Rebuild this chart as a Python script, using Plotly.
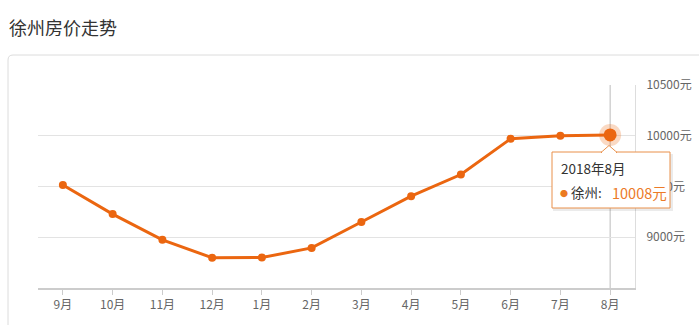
import plotly.graph_objects as go

title = "徐州房价走势"
months = ["9月", "10月", "11月", "12月", "1月", "2月", "3月", "4月", "5月", "6月", "7月", "8月"]
prices = [9515, 9228, 8975, 8798, 8800, 8895, 9150, 9405, 9618, 9970, 10000, 10008]
y_ticks = [9000, 9500, 10000, 10500]
y_ticktext = ["9000元", "9500元", "10000元", "10500元"]
tip_title = "2018年8月"
tip_series = "徐州:"

W, H = 699, 325
L, R, T, B = 38, 64, 85, 37
pw, ph = W - L - R, H - T - B

def px(x):
    return (x - L) / pw

def py(y):
    return (H - B - y) / ph

ORANGE = "#eb6610"
FONT = "Noto Sans CJK SC, Microsoft YaHei, sans-serif"

fig = go.Figure()
fig.add_trace(go.Scatter(
    x=months, y=prices, mode="lines+markers",
    line=dict(color=ORANGE, width=3),
    marker=dict(color=ORANGE, size=8),
    hoverinfo="skip", showlegend=False, cliponaxis=False,
))
fig.add_trace(go.Scatter(
    x=[months[-1]], y=[prices[-1]], mode="markers",
    marker=dict(color="rgba(235,102,16,0.25)", size=22),
    hoverinfo="skip", showlegend=False, cliponaxis=False,
))
fig.add_trace(go.Scatter(
    x=[months[-1]], y=[prices[-1]], mode="markers",
    marker=dict(color=ORANGE, size=13),
    hoverinfo="skip", showlegend=False, cliponaxis=False,
))

shapes = []
# card border (rounded)
x0, x1 = px(8), px(705)
y0, y1 = py(330), py(55)
rx, ry = 5 / pw, 5 / ph
shapes.append(dict(
    type="path", xref="paper", yref="paper", layer="below",
    path=(f"M {x0+rx},{y1} L {x1},{y1} L {x1},{y0} L {x0},{y0} L {x0},{y1-ry} "
          f"Q {x0},{y1} {x0+rx},{y1} Z"),
    line=dict(color="#dcdcdc", width=1), fillcolor="rgba(0,0,0,0)",
))
# hover vertical line
shapes.append(dict(
    type="line", xref="x", yref="paper", x0=11, x1=11, y0=0, y1=1,
    line=dict(color="#bbbbbb", width=1), layer="below",
))
# tooltip shadow
shapes.append(dict(
    type="rect", xref="paper", yref="paper", layer="above",
    x0=px(553), x1=px(673), y0=py(211), y1=py(154),
    line=dict(width=0), fillcolor="rgba(0,0,0,0.08)",
))
# tooltip box
shapes.append(dict(
    type="rect", xref="paper", yref="paper", layer="above",
    x0=px(552), x1=px(670), y0=py(208), y1=py(152),
    line=dict(color="#e9904a", width=1), fillcolor="white",
))
# tooltip pointer
shapes.append(dict(
    type="path", xref="paper", yref="paper", layer="above",
    path=(f"M {px(601)},{py(152.5)} L {px(609)},{py(145.5)} L {px(617)},{py(152.5)} Z"),
    line=dict(color="#e9904a", width=1), fillcolor="white",
))
shapes.append(dict(
    type="line", xref="paper", yref="paper", layer="above",
    x0=px(602), x1=px(616), y0=py(152.6), y1=py(152.6),
    line=dict(color="white", width=1.5),
))
fig.update_layout(shapes=shapes)

annotations = []
annotations.append(dict(
    text=title, xref="paper", yref="paper", x=px(7), y=py(27),
    xanchor="left", yanchor="middle", showarrow=False,
    font=dict(size=18, color="#333333", family=FONT),
))
annotations.append(dict(
    text=tip_title, xref="paper", yref="paper", x=px(559), y=py(168),
    xanchor="left", yanchor="middle", showarrow=False,
    font=dict(size=13.5, color="#333333", family=FONT),
))
annotations.append(dict(
    text="●", xref="paper", yref="paper", x=px(558), y=py(193),
    xanchor="left", yanchor="middle", showarrow=False,
    font=dict(size=8, color="#eb7a20", family=FONT),
))
annotations.append(dict(
    text=tip_series, xref="paper", yref="paper", x=px(569), y=py(192),
    xanchor="left", yanchor="middle", showarrow=False,
    font=dict(size=13.5, color="#333333", family=FONT),
))
annotations.append(dict(
    text=f"{prices[-1]}元", xref="paper", yref="paper", x=px(610), y=py(192),
    xanchor="left", yanchor="middle", showarrow=False,
    font=dict(size=14.5, color="#ec7b28", family=FONT),
))
fig.update_layout(annotations=annotations)

fig.update_layout(
    width=W, height=H,
    margin=dict(l=L, r=R, t=T, b=B, autoexpand=False),
    paper_bgcolor="white", plot_bgcolor="white",
    font=dict(family=FONT, color="#666666", size=12),
    xaxis=dict(
        type="category", range=[-0.5, 11.5],
        showline=True, linecolor="#cccccc", linewidth=2,
        ticks="outside", ticklen=5, tickcolor="#cccccc",
        showgrid=False, tickfont=dict(size=12, color="#666666"),
        fixedrange=True, automargin=False,
    ),
    yaxis=dict(
        side="right", range=[8500, 10500],
        tickvals=y_ticks, ticktext=y_ticktext,
        showgrid=True, gridcolor="#e3e3e3", gridwidth=1,
        showline=True, linecolor="#dddddd", linewidth=1,
        zeroline=False, ticks="", ticklabelstandoff=8,
        tickfont=dict(size=12, color="#666666"),
        fixedrange=True, automargin=False,
    ),
)

fig.write_html("out.html")
